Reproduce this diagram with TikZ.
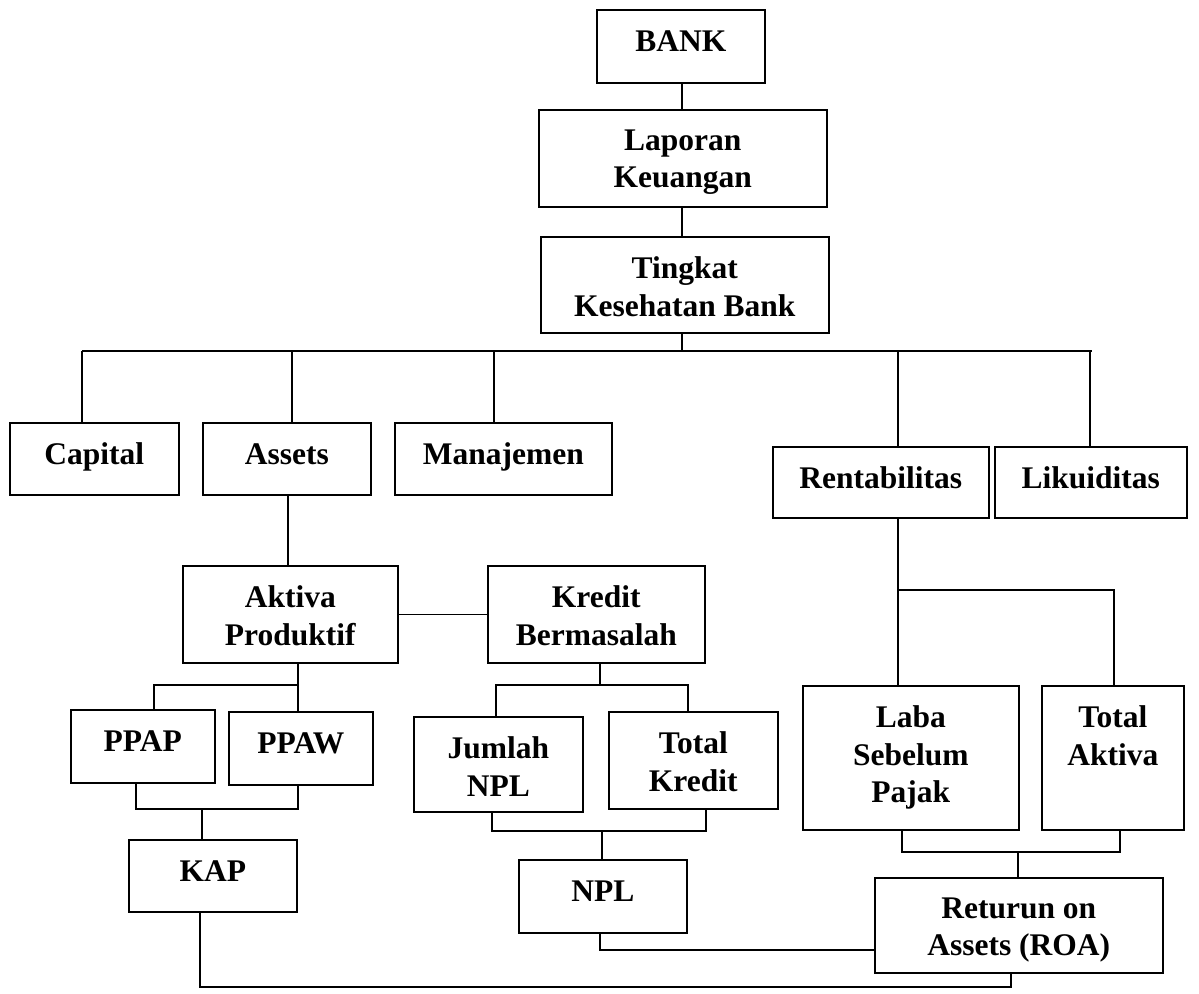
\documentclass[tikz,border=0pt]{standalone}
\usepackage{fontspec}
\setmainfont{Liberation Serif}
\begin{document}
\begin{tikzpicture}[x=1pt,y=-1pt,line width=1.5pt,
    box/.style={draw,line width=1.6pt,inner sep=0pt,anchor=north west},
    txt/.style={anchor=north,inner sep=0pt,yshift=-20pt,align=center,
        font=\fontsize{31.5}{37.5}\selectfont\bfseries,
        execute at begin node=\vphantom{Tl}}]
\useasboundingbox (0,0) rectangle (1199,993);

\node[box,minimum width=168pt,minimum height=73pt,label={[txt]north:BANK}] (bank) at (596,9) {};
\node[box,minimum width=288pt,minimum height=97pt,label={[txt]north:{Laporan\\Keuangan}}] (lap) at (538,109) {};
\node[box,minimum width=288pt,minimum height=96pt,label={[txt]north:{Tingkat\\Kesehatan Bank}}] (tkb) at (540,236) {};

\node[box,minimum width=169pt,minimum height=72pt,label={[txt]north:Capital}] (capital) at (9,422) {};
\node[box,minimum width=168pt,minimum height=72pt,label={[txt]north:Assets}] (assets) at (202,422) {};
\node[box,minimum width=217pt,minimum height=72pt,label={[txt]north:Manajemen}] (manaj) at (394,422) {};
\node[box,minimum width=216pt,minimum height=71pt,label={[txt]north:Rentabilitas}] (rent) at (772,446) {};
\node[box,minimum width=192pt,minimum height=71pt,label={[txt]north:Likuiditas}] (likuid) at (994,446) {};

\node[box,minimum width=215pt,minimum height=97pt,label={[txt]north:{Aktiva\\Produktif}}] (aktiva) at (182,565) {};
\node[box,minimum width=217pt,minimum height=97pt,label={[txt]north:{Kredit\\Bermasalah}}] (kredit) at (487,565) {};

\node[box,minimum width=144pt,minimum height=73pt,label={[txt]north:PPAP}] (ppap) at (70,709) {};
\node[box,minimum width=144pt,minimum height=73pt,label={[txt]north:PPAW}] (ppaw) at (228,711) {};
\node[box,minimum width=168pt,minimum height=72pt,label={[txt]north:KAP}] (kap) at (128,839) {};

\node[box,minimum width=169pt,minimum height=95pt,label={[txt]north:{Jumlah\\NPL}}] (jumlah) at (413,716) {};
\node[box,minimum width=169pt,minimum height=97pt,label={[txt]north:{Total\\Kredit}}] (totkred) at (608,711) {};
\node[box,minimum width=168pt,minimum height=73pt,label={[txt]north:NPL}] (npl) at (518,859) {};

\node[box,minimum width=216pt,minimum height=144pt,label={[txt]north:{Laba\\Sebelum\\Pajak}}] (laba) at (802,685) {};
\node[box,minimum width=142pt,minimum height=144pt,label={[txt]north:{Total\\Aktiva}}] (totakt) at (1041,685) {};
\node[box,minimum width=288pt,minimum height=95pt,label={[txt]north:{Returun on\\Assets (ROA)}}] (roa) at (874,877) {};

% top column
\coordinate (bus) at (682,351);
\draw (bank.south -| bus) -- (lap.north -| bus);
\draw (lap.south -| bus) -- (tkb.north -| bus);
\draw (tkb.south -| bus) -- (bus);

% main bus
\draw (82,351) -- (1092,351);
\foreach \n/\x in {capital/82,assets/292,manaj/494,rent/898,likuid/1090}
    \draw (\x,351) -- (\n.north -| \x,351);

% assets branch
\draw (assets.south -| 288,0) -- (aktiva.north -| 288,0);
\draw (aktiva.east) -- (kredit.west);
\coordinate (ak) at (298,685);
\draw (aktiva.south -| ak) -- (ak) -- (154,685) -- (ppap.north -| 154,0);
\draw (ak) -- (ppaw.north -| ak);
\coordinate (kp) at (202,809);
\draw (ppap.south -| 136,0) -- (136,809) -- (298,809) -- (ppaw.south -| 298,0);
\draw (kp) -- (kap.north -| kp);
\coordinate (bot) at (1011,987);
\draw (kap.south -| 200,0) -- (200,987) -- (bot) -- (roa.south -| bot);

% kredit branch
\coordinate (kr) at (600,685);
\draw (kredit.south -| kr) -- (kr);
\draw (jumlah.north -| 496,0) -- (496,685) -- (688,685) -- (totkred.north -| 688,0);
\coordinate (np) at (602,831);
\draw (jumlah.south -| 492,0) -- (492,831) -- (706,831) -- (totkred.south -| 706,0);
\draw (np) -- (npl.north -| np);
\coordinate (nr) at (600,950);
\draw (npl.south -| nr) -- (nr) -- (roa.west |- nr);

% rentabilitas branch
\coordinate (rt) at (898,590);
\draw (rent.south -| rt) -- (laba.north -| rt);
\draw (rt) -- (1114,590) -- (totakt.north -| 1114,0);
\coordinate (ro) at (1018,852);
\draw (laba.south -| 902,0) -- (902,852) -- (1120,852) -- (totakt.south -| 1120,0);
\draw (ro) -- (roa.north -| ro);
\end{tikzpicture}
\end{document}
